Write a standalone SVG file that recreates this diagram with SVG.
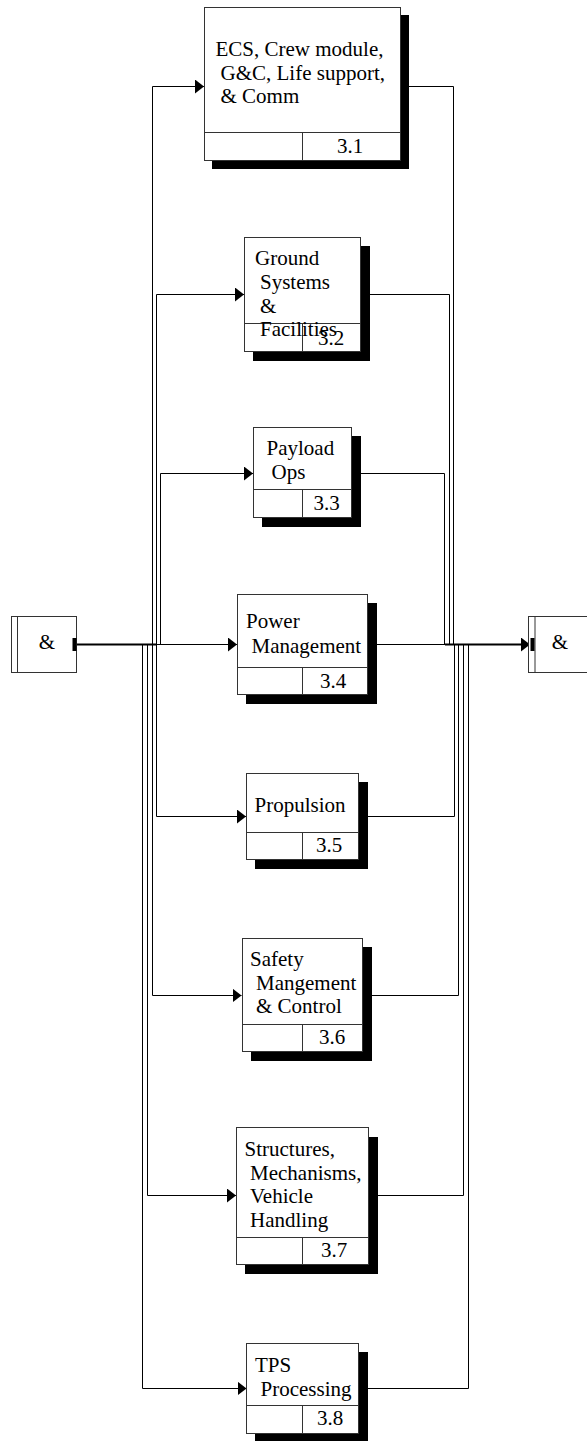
<svg xmlns="http://www.w3.org/2000/svg" width="587" height="1441" viewBox="0 0 587 1441">
<style>
.num{text-anchor:middle}
.box{fill:#fff;stroke:#333;stroke-width:1}
.sh{fill:#000}
.dv{stroke:#333;stroke-width:1;fill:none}
.c{fill:none;stroke:#000;stroke-width:1}
.thick{fill:none;stroke:#000;stroke-width:2}
</style>
<defs>
<marker id="ah" markerUnits="userSpaceOnUse" markerWidth="10" markerHeight="15" refX="9" refY="7" orient="auto">
<path d="M0,0 L9,7 L0,14 z" fill="#000"/>
</marker>
</defs>
<rect width="587" height="1441" fill="#fff"/>

<g id="connectors">
<path class="thick" d="M77,644.5 H157"/>
<path class="c" d="M157,644.5 H237" marker-end="url(#ah)"/>
<path class="c" d="M152.5,644.5 V86.5 H204" marker-end="url(#ah)"/>
<path class="c" d="M156.5,644.5 V294.5 H244" marker-end="url(#ah)"/>
<path class="c" d="M160.5,644.5 V473.5 H253" marker-end="url(#ah)"/>
<path class="c" d="M156.5,644.5 V816.5 H246" marker-end="url(#ah)"/>
<path class="c" d="M152.5,644.5 V995.5 H241.5" marker-end="url(#ah)"/>
<path class="c" d="M147.5,644.5 V1195.5 H236" marker-end="url(#ah)"/>
<path class="c" d="M142.5,644.5 V1388.5 H246.5" marker-end="url(#ah)"/>
<path class="c" d="M401,86.5 H453.5 V644.5"/>
<path class="c" d="M361,294.5 H449.5 V644.5"/>
<path class="c" d="M352,473.5 H444.5 V644.5"/>
<path class="c" d="M368,644.5 H445"/>
<path class="thick" d="M445,644.5 H530" marker-end="url(#ah)"/>
<path class="c" d="M359,816.5 H454.5 V644.5"/>
<path class="c" d="M363,995.5 H458.5 V644.5"/>
<path class="c" d="M369,1195.5 H463.5 V644.5"/>
<path class="c" d="M359,1388.5 H468.5 V644.5"/>
</g>

<g font-family="'Liberation Serif', 'Times New Roman', 'DejaVu Serif', serif" font-size="21" fill="#000">
<g id="in">
<rect class="box" x="11.5" y="616.5" width="65" height="56"/>
<line class="dv" x1="17.5" y1="616.5" x2="17.5" y2="672.5"/>
<rect class="sh" x="72.5" y="638" width="4" height="13"/>
<text x="47" y="649" class="num">&amp;</text>
</g>

<g id="out">
<rect class="box" x="528.5" y="616.5" width="65" height="56"/>
<line class="dv" x1="535" y1="616.5" x2="535" y2="672.5"/>
<rect class="sh" x="530.5" y="638" width="4" height="13"/>
<text x="560" y="649" class="num">&amp;</text>
</g>

<g id="n31">
<rect class="sh" x="212" y="15" width="197" height="154"/>
<rect class="box" x="204.5" y="7.5" width="196" height="153"/>
<line class="dv" x1="204.5" y1="132.5" x2="400.5" y2="132.5"/>
<line class="dv" x1="302.5" y1="132.5" x2="302.5" y2="160.5"/>
<text x="215.5" y="56">ECS, Crew module,</text>
<text x="220.5" y="79.5">G&amp;C, Life support,</text>
<text x="220.5" y="103">&amp; Comm</text>
<text x="350" y="153" class="num">3.1</text>
</g>

<g id="n32">
<rect class="sh" x="253" y="246" width="117" height="115"/>
<rect class="box" x="244.5" y="237.5" width="116" height="114"/>
<line class="dv" x1="244.5" y1="323.5" x2="360.5" y2="323.5"/>
<line class="dv" x1="302.5" y1="323.5" x2="302.5" y2="351.5"/>
<text x="255" y="265">Ground</text>
<text x="260" y="289">Systems</text>
<text x="260" y="312.5">&amp;</text>
<text x="260" y="336">Facilities</text>
<text x="331" y="344.5" class="num">3.2</text>
</g>

<g id="n33">
<rect class="sh" x="262" y="436" width="99" height="91"/>
<rect class="box" x="253.5" y="427.5" width="98" height="90"/>
<line class="dv" x1="253.5" y1="489.5" x2="351.5" y2="489.5"/>
<line class="dv" x1="302.5" y1="489.5" x2="302.5" y2="517.5"/>
<text x="266.5" y="455">Payload</text>
<text x="271.5" y="479">Ops</text>
<text x="326.5" y="510" class="num">3.3</text>
</g>

<g id="n34">
<rect class="sh" x="246" y="603" width="131" height="101"/>
<rect class="box" x="237.5" y="594.5" width="130" height="100"/>
<line class="dv" x1="237.5" y1="667.5" x2="367.5" y2="667.5"/>
<line class="dv" x1="302.5" y1="667.5" x2="302.5" y2="694.5"/>
<text x="246" y="628">Power</text>
<text x="251.5" y="652.5">Management</text>
<text x="333" y="688" class="num">3.4</text>
</g>

<g id="n35">
<rect class="sh" x="255" y="782" width="113" height="87"/>
<rect class="box" x="246.5" y="773.5" width="112" height="86"/>
<line class="dv" x1="246.5" y1="832.5" x2="358.5" y2="832.5"/>
<line class="dv" x1="302.5" y1="832.5" x2="302.5" y2="859.5"/>
<text x="254.5" y="811.5">Propulsion</text>
<text x="329" y="852" class="num">3.5</text>
</g>

<g id="n36">
<rect class="sh" x="251" y="947" width="121" height="114"/>
<rect class="box" x="242.5" y="938.5" width="120" height="113"/>
<line class="dv" x1="242.5" y1="1024.5" x2="362.5" y2="1024.5"/>
<line class="dv" x1="302.5" y1="1024.5" x2="302.5" y2="1051.5"/>
<text x="250" y="966">Safety</text>
<text x="256" y="989.5">Mangement</text>
<text x="256" y="1013">&amp; Control</text>
<text x="332" y="1043.5" class="num">3.6</text>
</g>

<g id="n37">
<rect class="sh" x="245" y="1137" width="133" height="137"/>
<rect class="box" x="236.5" y="1127.5" width="132" height="137"/>
<line class="dv" x1="236.5" y1="1237.5" x2="368.5" y2="1237.5"/>
<line class="dv" x1="302.5" y1="1237.5" x2="302.5" y2="1264.5"/>
<text x="244.5" y="1156">Structures,</text>
<text x="250" y="1179.5">Mechanisms,</text>
<text x="250" y="1203">Vehicle</text>
<text x="250" y="1226.5">Handling</text>
<text x="334" y="1257" class="num">3.7</text>
</g>

<g id="n38">
<rect class="sh" x="255" y="1352" width="113" height="90"/>
<rect class="box" x="246.5" y="1343.5" width="112" height="90"/>
<line class="dv" x1="246.5" y1="1405.5" x2="358.5" y2="1405.5"/>
<line class="dv" x1="302.5" y1="1405.5" x2="302.5" y2="1433.5"/>
<text x="255" y="1372">TPS</text>
<text x="260.5" y="1396">Processing</text>
<text x="330" y="1425" class="num">3.8</text>
</g>
</g>
</svg>
